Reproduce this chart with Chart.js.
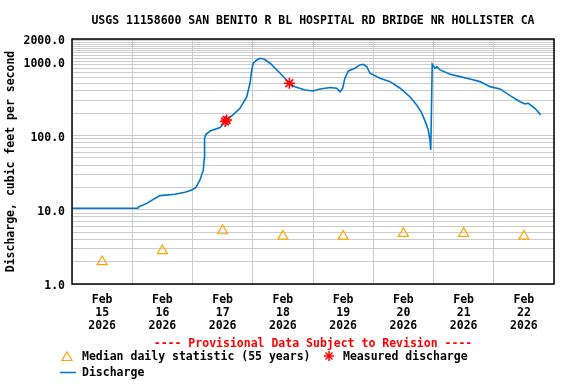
<!DOCTYPE html>
<html>
<head>
<meta charset="utf-8">
<script src="https://cdn.jsdelivr.net/npm/chart.js@4"></script>
<style>
  body { margin: 0; background: #fff; }
  #wrap { position: relative; width: 576px; height: 384px; font: bold 11.5px "DejaVu Sans Mono", monospace; color: #000; }
  #chart { position: absolute; left: 0; top: 0; }
  .txt { position: absolute; white-space: pre; line-height: 14px; }
  .center { left: 72px; width: 482px; text-align: center; }
  svg { position: absolute; overflow: visible; }
</style>
</head>
<body>
<div id="wrap">
  <canvas id="chart" width="576" height="384"></canvas>
  <div class="txt center" style="top:13px">USGS 11158600 SAN BENITO R BL HOSPITAL RD BRIDGE NR HOLLISTER CA</div>
  <div class="txt center" style="top:336px;color:#ff0000">---- Provisional Data Subject to Revision ----</div>

  <svg style="left:0;top:0" width="576" height="384">
    <polygon points="62,360.5 72,360.5 67,352" fill="none" stroke="#ffa500" stroke-width="1.2"/>
    <g stroke="#ff0000" stroke-width="1.5">
      <line x1="324" y1="356" x2="334" y2="356"/>
      <line x1="329" y1="351" x2="329" y2="361"/>
      <line x1="325.5" y1="352.5" x2="332.5" y2="359.5"/>
      <line x1="325.5" y1="359.5" x2="332.5" y2="352.5"/>
    </g>
    <line x1="60" y1="372.5" x2="76" y2="372.5" stroke="#0077cc" stroke-width="1.5"/>
  </svg>
  <div class="txt" style="left:82px;top:349px">Median daily statistic (55 years)</div>
  <div class="txt" style="left:343px;top:349px">Measured discharge</div>
  <div class="txt" style="left:82px;top:365px">Discharge</div>
</div>

<script>
// Axis labels
const monthLabel = 'Feb';
const yearLabel = '2026';
const dayLabels = ['15', '16', '17', '18', '19', '20', '21', '22'];
const yLabelTicks = [1, 10, 100, 1000, 2000];

// Discharge, hours since Feb 15 00:00 and cubic feet per second
const flowHours = [0, 26.2, 26.7, 29.8, 33.1, 35.1, 41.0, 45.0, 47.7, 49.3,
  51.0, 52.3, 52.7, 52.8, 53.4, 55.0, 59.0, 61.3, 64.1, 66.9,
  69.6, 70.9, 71.6, 72.2, 73.6, 74.9, 76.6, 78.9, 82.9, 86.6,
  88.8, 92.8, 96.1, 98.8, 102.8, 105.4, 106.8, 107.8, 108.7, 110.1,
  112.7, 114.7, 116.0, 117.4, 118.7, 122.7, 126.7, 130.7, 134.6, 137.3,
  139.3, 141.0, 141.9, 142.6, 142.9, 143.2, 143.5, 144.6, 145.3, 146.6,
  150.6, 154.6, 158.5, 162.5, 166.5, 170.5, 174.5, 178.5, 180.5, 181.8,
  184.4, 186.7];
const flowCfs = [10.5, 10.5, 11.0, 12.2, 14.3, 15.5, 16.2, 17.2, 18.5, 19.9,
  25.2, 34.4, 49.9, 92, 104, 115, 128, 157, 190, 233,
  331, 507, 766, 943, 1045, 1100, 1068, 943, 691, 507,
  456, 412, 399, 425, 445, 434, 390, 434, 592, 742,
  807, 894, 914, 848, 691, 592, 533, 434, 334, 258,
  202, 146, 119, 87, 64, 236, 914, 807, 848, 766,
  670, 622, 579, 533, 456, 425, 345, 286, 267, 272,
  233, 190];

// Median daily statistic (55 years), at noon of each day
const medianHours = [12, 36, 60, 84, 108, 132, 156, 180];
const medianCfs = [2.0, 2.8, 5.2, 4.4, 4.4, 4.8, 4.8, 4.4];

// Measured discharge
const measuredHours = [61.0, 61.6, 86.6];
const measuredCfs = [155, 162, 507];

const font = { family: '"DejaVu Sans Mono", monospace', size: 11.5, weight: 'bold' };

function pairs(xs, ys) {
  return xs.map((x, i) => ({ x: x, y: ys[i] }));
}

function yGridValues() {
  const vals = [];
  [1, 10, 100].forEach(d => {
    for (let k = 1; k <= 9; k++) vals.push(k * d);
  });
  for (let v = 1000; v <= 2000; v += 100) vals.push(v);
  return vals;
}

const plotBorder = {
  id: 'plotBorder',
  afterDraw(chart) {
    const { ctx, chartArea: a } = chart;
    ctx.save();
    ctx.strokeStyle = '#000';
    ctx.lineWidth = 1.5;
    ctx.strokeRect(a.left, a.top, a.right - a.left, a.bottom - a.top);
    ctx.restore();
  }
};

new Chart(document.getElementById('chart'), {
  type: 'line',
  data: {
    datasets: [
      {
        label: 'Discharge',
        data: pairs(flowHours, flowCfs),
        borderColor: '#0077cc',
        borderWidth: 1.6,
        pointRadius: 0,
        tension: 0,
        order: 2
      },
      {
        label: 'Median daily statistic (55 years)',
        data: pairs(medianHours, medianCfs),
        showLine: false,
        pointStyle: 'triangle',
        pointRadius: 5.8,
        borderColor: '#ffa500',
        borderWidth: 1.2,
        backgroundColor: 'rgba(0,0,0,0)',
        order: 1
      },
      {
        label: 'Measured discharge',
        data: pairs(measuredHours, measuredCfs),
        showLine: false,
        pointStyle: 'star',
        pointRadius: 5.5,
        borderColor: '#ff0000',
        borderWidth: 1.5,
        backgroundColor: '#ff0000',
        order: 0
      }
    ]
  },
  options: {
    responsive: false,
    animation: false,
    devicePixelRatio: 1,
    layout: { padding: { top: 39, right: 22, bottom: 54, left: 0 } },
    plugins: {
      legend: { display: false },
      tooltip: { enabled: false }
    },
    scales: {
      x: {
        type: 'linear',
        min: 0,
        max: 192,
        border: { display: false },
        afterBuildTicks(scale) {
          const t = [];
          for (let h = 0; h <= 192; h += 12) t.push({ value: h });
          scale.ticks = t;
        },
        afterFit(scale) { scale.height = 46; },
        grid: {
          drawTicks: false,
          color: c => (c.tick && c.tick.value % 24 === 0) ? '#cccccc' : 'rgba(0,0,0,0)',
          lineWidth: 1
        },
        ticks: {
          autoSkip: false,
          maxRotation: 0,
          padding: 9.5,
          color: '#000',
          font: Object.assign({}, font, { lineHeight: 1.13 }),
          callback: v => v % 24 === 12 ? [monthLabel, dayLabels[(v - 12) / 24], yearLabel] : ''
        }
      },
      y: {
        type: 'logarithmic',
        min: 1,
        max: 2000,
        border: { display: false },
        afterBuildTicks(scale) {
          scale.ticks = yGridValues().map(v => ({ value: v }));
        },
        afterFit(scale) { scale.width = 72; },
        grid: { drawTicks: false, color: '#cccccc', lineWidth: 1 },
        ticks: {
          autoSkip: false,
          padding: 7,
          labelOffset: 2.5,
          color: '#000',
          font: font,
          callback: v => yLabelTicks.includes(v) ? v.toFixed(1) : ''
        },
        title: {
          display: true,
          text: 'Discharge, cubic feet per second',
          color: '#000',
          font: font,
          padding: { top: 4, bottom: 0 }
        }
      }
    }
  },
  plugins: [plotBorder]
});
</script>
</body>
</html>
